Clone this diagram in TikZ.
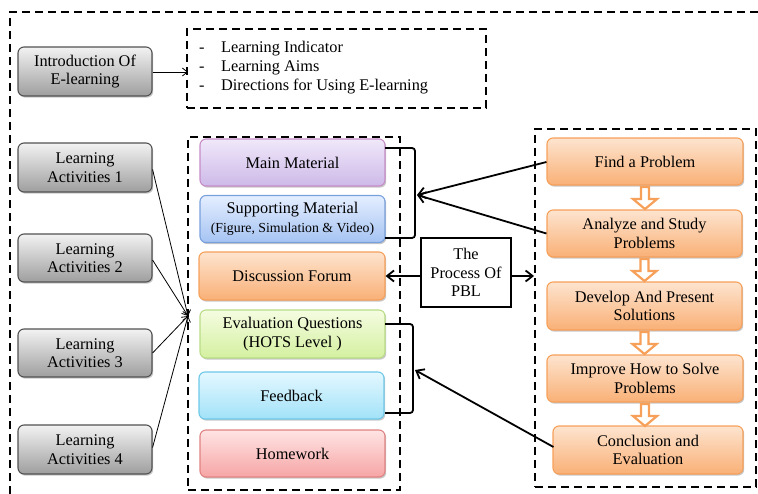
\documentclass[tikz,border=0pt]{standalone}
\usepackage{fontspec}
\setmainfont{Liberation Serif}
\usetikzlibrary{arrows.meta,shadows,calc}
\definecolor{orbrd}{HTML}{F6A05A}
\begin{document}
\begin{tikzpicture}[x=1pt,y=-1pt,
  txt/.style={font=\fontsize{16.3}{18.5}\selectfont},
  base/.style={txt, rounded corners=6pt, line width=1.1pt, align=center, inner sep=2pt,
    drop shadow={shadow xshift=1.2pt,shadow yshift=-1.6pt,opacity=0.22,fill=black}},
  graybox/.style={base, draw=black!68, top color=black!5, bottom color=black!38, minimum width=134pt, minimum height=48pt},
  purplebox/.style={base, draw=violet!45!white, top color={rgb,255:red,240;green,232;blue,250}, bottom color={rgb,255:red,205;green,185;blue,232}, minimum width=185pt, minimum height=47pt},
  bluebox/.style={base, draw={rgb,255:red,120;green,160;blue,220}, top color={rgb,255:red,228;green,238;blue,255}, bottom color={rgb,255:red,165;green,195;blue,242}, minimum width=185pt, minimum height=47pt},
  orangebox/.style={base, draw=orbrd, top color={rgb,255:red,253;green,228;blue,207}, bottom color={rgb,255:red,249;green,176;blue,118}, minimum height=47pt},
  greenbox/.style={base, draw={rgb,255:red,185;green,220;blue,135}, top color={rgb,255:red,245;green,252;blue,225}, bottom color={rgb,255:red,212;green,240;blue,160}, minimum width=185pt, minimum height=48pt},
  cyanbox/.style={base, draw={rgb,255:red,110;green,200;blue,232}, top color={rgb,255:red,228;green,248;blue,255}, bottom color={rgb,255:red,162;green,226;blue,248}, minimum width=185pt, minimum height=47pt},
  pinkbox/.style={base, draw={rgb,255:red,225;green,130;blue,130}, top color={rgb,255:red,255;green,228;blue,228}, bottom color={rgb,255:red,246;green,165;blue,165}, minimum width=185pt, minimum height=47pt},
  dashbox/.style={draw=black, line width=1.9pt, dash pattern=on 8pt off 5pt, inner sep=0pt},
  thinarr/.style={line width=0.8pt, -{Straight Barb[length=5pt,width=8pt]}},
  bigarr/.style={line width=1.8pt, -{Straight Barb[length=7pt,width=11pt]}},
  brk/.style={line width=1.8pt, rounded corners=3pt},
  downarr/.pic={\draw[orbrd, line width=2.2pt, fill=white, line join=miter]
     (-4,0) -- (-4,12) -- (-12,12) -- (0,22) -- (12,12) -- (4,12) -- (4,0) -- cycle;}
]
\useasboundingbox (0,0) rectangle (758,494);

% outer dashed frame
\draw[line width=2pt, dash pattern=on 8pt off 5pt] (10,494) -- (10,12) -- (758,12);

% dashed containers
\node[dashbox, minimum width=299pt, minimum height=79pt] (aimsbox) at (336.5,68.5) {};
\node[dashbox, minimum width=212pt, minimum height=353pt] (midbox) at (294,313.5) {};
\node[dashbox, minimum width=221pt, minimum height=358pt] (rbox) at (645.5,308) {};

% intro
\node[graybox, minimum height=49pt] (intro) at (85,71.5) {Introduction Of\\E-learning};
\node[anchor=west, align=left, inner sep=0pt, font=\fontsize{16.3}{19}\selectfont] (aims) at (199,68)
  {\makebox[22pt][l]{-}Learning Indicator\\ \makebox[22pt][l]{-}Learning Aims\\ \makebox[22pt][l]{-}Directions for Using E-learning};
\coordinate (aimsin) at (188,72);
\draw[thinarr] (intro.east |- aimsin) -- (aimsin);

% learning activities
\node[graybox, minimum height=49pt] (la1) at (85,167.5) {Learning\\Activities 1};
\node[graybox] (la2) at (85,258) {Learning\\Activities 2};
\node[graybox] (la3) at (85,353) {Learning\\Activities 3};
\node[graybox, minimum height=49pt] (la4) at (85,449.5) {Learning\\Activities 4};
\coordinate (conv) at (188,316);
\draw[thinarr] ([yshift=-2pt]la1.east) -- (conv);
\draw[thinarr] ([yshift=-2pt]la2.east) -- (conv);
\draw[thinarr] (la3.east) -- (conv);
\draw[thinarr] ([yshift=2pt]la4.east) -- (conv);

% middle column
\node[purplebox] (main) at (292.5,162.5) {Main Material};
\node[bluebox] (supp) at (292.5,219) {Supporting Material\\{\fontsize{13.8}{15.5}\selectfont (Figure, Simulation \& Video)}};
\node[orangebox, minimum width=186pt, minimum height=48pt] (disc) at (292,276) {Discussion Forum};
\node[greenbox] (eval) at (292.5,334) {Evaluation Questions\\(HOTS Level )};
\node[cyanbox] (feed) at (291.5,395.5) {Feedback};
\node[pinkbox] (home) at (292.5,453.5) {Homework};

% right column
\node[orangebox, minimum width=196pt] (find) at (645,161.5) {Find a Problem};
\node[orangebox, minimum width=195pt] (anal) at (644.5,233.5) {Analyze and Study\\Problems};
\node[orangebox, minimum width=195pt, minimum height=48pt] (dev) at (644.5,306) {Develop And Present\\Solutions};
\node[orangebox, minimum width=196pt] (impr) at (645,378.5) {Improve How to Solve\\Problems};
\node[orangebox, minimum width=190pt, minimum height=48pt] (conc) at (648,450) {Conclusion and\\Evaluation};

\pic at ([yshift=-1.5pt]find.south) {downarr};
\pic at ([yshift=-1.5pt]anal.south) {downarr};
\pic at ([yshift=-1.5pt]dev.south) {downarr};
\pic at ([yshift=-1.5pt]impr.south -| find.south) {downarr};

% brackets
\coordinate (b1a) at (385,148);
\coordinate (b1b) at (385,238);
\coordinate (b1m) at (417,195);
\draw[brk] (b1a) -- (415,148) -- (415,238) -- (b1b);
\coordinate (b2a) at (385,324);
\coordinate (b2b) at (385,413);
\coordinate (b2m) at (415,370);
\draw[brk] (b2a) -- (413,324) -- (413,413) -- (b2b);

\draw[bigarr] ([yshift=-0.5pt]find.west) -- (b1m);
\draw[bigarr] (anal.west) -- (b1m);
\draw[bigarr] ([yshift=3pt,xshift=1pt]conc.west) -- (b2m);

% PBL
\node[draw, line width=1.5pt, minimum width=90pt, minimum height=69pt, align=center, inner sep=0pt,
  font=\fontsize{16.3}{18.5}\selectfont] (pbl) at (466,272.5) {The\\Process Of\\PBL};
\draw[bigarr] (pbl.west |- disc.east) -- (disc.east);
\draw[bigarr] (pbl.east |- disc.east) -- (rbox.west |- disc.east);
\end{tikzpicture}
\end{document}
